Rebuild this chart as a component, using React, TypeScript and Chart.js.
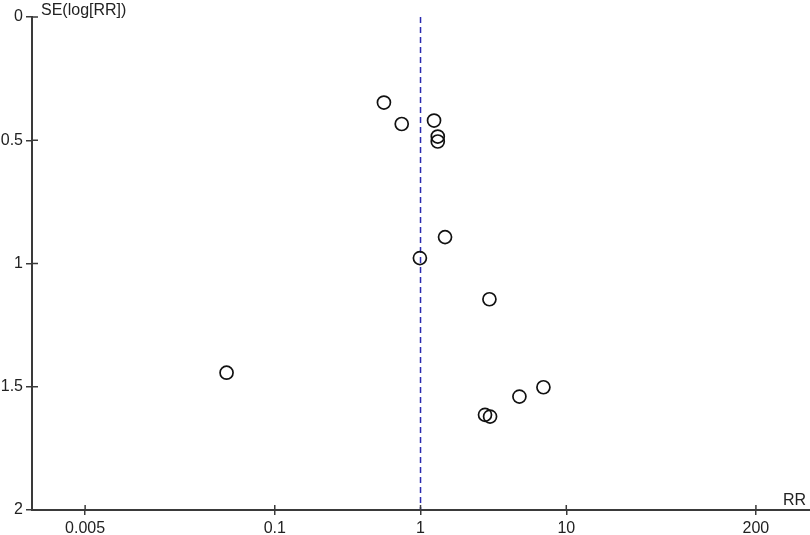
import React, { useEffect, useRef } from "react";
import { Chart, registerables } from "chart.js";

Chart.register(...registerables);

// Funnel plot data: risk ratio (RR) and standard error of log(RR)
const rr = [0.561, 0.743, 1.238, 1.313, 1.313, 1.473, 0.99, 2.97, 0.0467, 6.97, 4.77, 2.77, 3.0];
const seLogRR = [0.347, 0.434, 0.42, 0.485, 0.505, 0.893, 0.978, 1.145, 1.443, 1.502, 1.54, 1.614, 1.621];
const pooledRR = 1;

const xTicks = [0.005, 0.1, 1, 10, 200];
const yTicks = [0, 0.5, 1, 1.5, 2];
const xMin = 0.00216;
const xMax = 470;
const yMin = 0;
const yMax = 2;

const FONT_FAMILY = "'Liberation Sans', Arial, sans-serif";
const AXIS_COLOR = "#3a3a3a";
const TEXT_COLOR = "#222222";

const overlayPlugin = {
  id: "funnelOverlay",
  afterDraw(chart: any) {
    const { ctx, chartArea, scales } = chart;
    const x = scales.x;
    const y = scales.y;
    ctx.save();
    ctx.strokeStyle = AXIS_COLOR;
    ctx.lineWidth = 1.5;
    ctx.beginPath();
    for (const t of xTicks) {
      const px = x.getPixelForValue(t);
      ctx.moveTo(px, chartArea.bottom);
      ctx.lineTo(px, chartArea.bottom - 5);
    }
    for (const t of yTicks) {
      const py = y.getPixelForValue(t);
      ctx.moveTo(chartArea.left, py);
      ctx.lineTo(chartArea.left + 6, py);
    }
    ctx.stroke();
    ctx.fillStyle = TEXT_COLOR;
    ctx.font = `16px ${FONT_FAMILY}`;
    ctx.textBaseline = "alphabetic";
    ctx.textAlign = "left";
    ctx.fillText("SE(log[RR])", chartArea.left + 9, 15);
    ctx.textAlign = "right";
    ctx.fillText("RR", chartArea.right - 4, chartArea.bottom - 5);
    ctx.restore();
  },
};

export default function App() {
  const canvasRef = useRef<HTMLCanvasElement | null>(null);

  useEffect(() => {
    const canvas = canvasRef.current;
    if (!canvas) return;
    const chart = new Chart(canvas, {
      type: "scatter",
      data: {
        datasets: [
          {
            label: "Studies",
            data: rr.map((v, i) => ({ x: v, y: seLogRR[i] })),
            pointStyle: "circle",
            pointRadius: 6.5,
            pointHoverRadius: 6.5,
            borderColor: "#111111",
            backgroundColor: "rgba(0,0,0,0)",
            borderWidth: 1.7,
            showLine: false,
          },
          {
            type: "line",
            label: "Pooled",
            data: [
              { x: pooledRR, y: yMin },
              { x: pooledRR, y: yMax },
            ],
            borderColor: "#2b2bb0",
            borderDash: [6, 4],
            borderWidth: 1.5,
            pointRadius: 0,
            showLine: true,
            fill: false,
          } as any,
        ],
      },
      options: {
        animation: false,
        responsive: false,
        devicePixelRatio: 1,
        layout: { autoPadding: false, padding: { top: 17, right: 0, left: 0, bottom: 0 } },
        plugins: {
          legend: { display: false },
          tooltip: { enabled: false },
        },
        scales: {
          x: {
            type: "logarithmic",
            position: "bottom",
            min: xMin,
            max: xMax,
            afterBuildTicks: (s: any) => {
              s.ticks = xTicks.map((v) => ({ value: v }));
            },
            afterFit: (s: any) => {
              s.height = 25;
              s.paddingLeft = 0;
              s.paddingRight = 0;
            },
            ticks: {
              autoSkip: false,
              maxRotation: 0,
              padding: 4,
              color: TEXT_COLOR,
              font: { family: FONT_FAMILY, size: 16 },
              callback: (v: any) => String(v),
            },
            grid: {
              drawOnChartArea: false,
              drawTicks: true,
              tickLength: 5,
              color: AXIS_COLOR,
              lineWidth: 1.5,
            },
            border: { display: true, color: AXIS_COLOR, width: 2 },
          },
          y: {
            type: "linear",
            reverse: true,
            min: yMin,
            max: yMax,
            afterBuildTicks: (s: any) => {
              s.ticks = yTicks.map((v) => ({ value: v }));
            },
            afterFit: (s: any) => {
              s.width = 32;
              s.paddingTop = 0;
              s.paddingBottom = 0;
            },
            ticks: {
              autoSkip: false,
              padding: 3,
              color: TEXT_COLOR,
              font: { family: FONT_FAMILY, size: 16 },
              callback: (v: any) => String(v),
            },
            grid: {
              drawOnChartArea: false,
              drawTicks: true,
              tickLength: 6,
              color: AXIS_COLOR,
              lineWidth: 1.5,
            },
            border: { display: true, color: AXIS_COLOR, width: 2 },
          },
        },
      },
      plugins: [overlayPlugin],
    });
    return () => chart.destroy();
  }, []);

  return (
    <div style={{ position: "fixed", left: 0, top: 0, width: 810, height: 535, background: "#ffffff" }}>
      <canvas ref={canvasRef} width={810} height={535} style={{ width: 810, height: 535, display: "block" }} />
    </div>
  );
}
